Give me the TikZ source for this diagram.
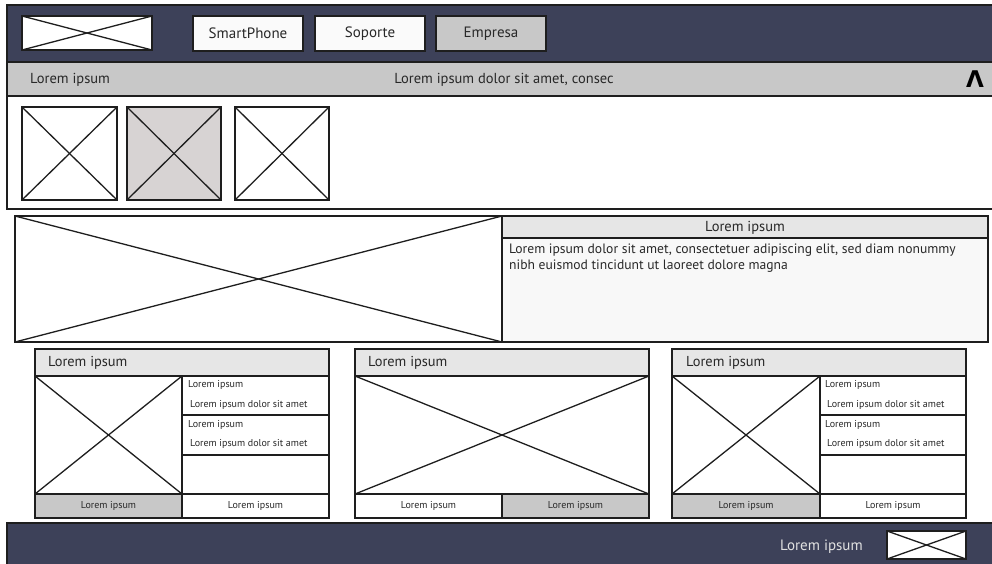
\documentclass[tikz,border=0pt]{standalone}
\usepackage{fontspec}
\setmainfont{PT Sans}
\newfontfamily\symfont{DejaVu Sans}
\definecolor{navy}{RGB}{61,65,89}
\definecolor{ink}{RGB}{30,30,30}
\definecolor{txt}{RGB}{40,40,40}
\definecolor{barg}{RGB}{200,200,200}
\definecolor{headg}{RGB}{230,230,230}
\definecolor{paneg}{RGB}{248,248,248}
\definecolor{btng}{RGB}{250,250,250}
\definecolor{thumbg}{RGB}{215,211,211}
\definecolor{foottxt}{RGB}{225,225,225}
\begin{document}
\begin{tikzpicture}[x=1pt,y=-1pt,
  box/.style={draw=ink, line width=1.3pt, inner sep=0pt, outer sep=0pt, anchor=north west, fill=white, text=txt},
  band/.style={box, fill=navy},
  btn/.style={box, fill=btng, minimum width=110pt, minimum height=35pt, font=\fontsize{15}{17}\selectfont},
  lbl/.style={inner sep=0pt, anchor=west, text=txt, yshift=-1.2pt},
  big/.style={lbl, font=\fontsize{14.5}{17}\selectfont},
  hdr/.style={lbl, font=\fontsize{14.4}{16}\selectfont},
  small/.style={lbl, font=\fontsize{10}{12}\selectfont},
  footbtn/.style={box, minimum width=147pt, minimum height=24pt, font=\fontsize{10}{12}\selectfont},
  cross/.style={draw=ink, line width=1.3pt}]
\useasboundingbox (0,0) rectangle (992,563);

% header band with logo and menu buttons
\node[band, minimum width=990pt, minimum height=57pt] (top) at (7,5) {};
\node[box, minimum width=130pt, minimum height=34pt] (logo) at (22,16) {};
\node[btn] (smart) at (193,16) {SmartPhone};
\node[btn] (sop) at (315,16) {Soporte};
\node[btn, fill=barg] (emp) at (436,16) {Empresa};

% grey sub-bar
\node[box, fill=barg, minimum width=990pt, minimum height=34pt] (sub) at (7,62) {};
\node[big] (subl) at (30,79) {Lorem ipsum};
\node[big, anchor=center] (subc) at (504,79) {Lorem ipsum dolor sit amet, consec};
\node[inner sep=0pt, text=black, font=\symfont\bfseries\fontsize{23}{25}\selectfont] (up) at (975,79) {Λ};

% thumbnail strip
\node[box, minimum width=990pt, minimum height=113pt] (strip) at (7,96) {};
\node[box, minimum width=95pt, minimum height=93pt] (t1) at (22,107) {};
\node[box, fill=thumbg, minimum width=94pt, minimum height=93pt] (t2) at (127,107) {};
\node[box, minimum width=94pt, minimum height=93pt] (t3) at (235,107) {};

% hero image and description
\node[box, minimum width=487pt, minimum height=126pt] (hero) at (15,216) {};
\node[box, fill=paneg, minimum width=486pt, minimum height=126pt] (desc) at (502,216) {};
\node[box, fill=headg, minimum width=486pt, minimum height=22pt] (deschd) at (502,216) {};
\node[big, anchor=center] (desct) at (deschd.center) {Lorem ipsum};
\node[lbl, font=\fontsize{13.6}{16.5}\selectfont, anchor=north west, align=left] (descb) at (509,242)
  {Lorem ipsum dolor sit amet, consectetuer adipiscing elit, sed diam nonummy\\nibh euismod tincidunt ut laoreet dolore magna};

% card 1
\node[box, fill=headg, minimum width=294pt, minimum height=27pt] (c1h) at (35,349) {};
\node[hdr] (c1ht) at (48,362) {Lorem ipsum};
\node[box, minimum width=147pt, minimum height=118pt] (c1i) at (35,376) {};
\node[box, minimum width=147pt, minimum height=39pt] (c1r1) at (182,376) {};
\node[box, minimum width=147pt, minimum height=40pt] (c1r2) at (182,415) {};
\node[box, minimum width=147pt, minimum height=39pt] (c1r3) at (182,455) {};
\node[small] (c1a) at (188,384) {Lorem ipsum};
\node[small] (c1b) at (190,404) {Lorem ipsum dolor sit amet};
\node[small] (c1c) at (188,424) {Lorem ipsum};
\node[small] (c1d) at (190,443) {Lorem ipsum dolor sit amet};
\node[footbtn, fill=barg] (c1f1) at (35,494) {Lorem ipsum};
\node[footbtn] (c1f2) at (182,494) {Lorem ipsum};

% card 2
\node[box, fill=headg, minimum width=294pt, minimum height=27pt] (c2h) at (355,349) {};
\node[hdr] (c2ht) at (368,362) {Lorem ipsum};
\node[box, minimum width=294pt, minimum height=118pt] (c2i) at (355,376) {};
\node[footbtn] (c2f1) at (355,494) {Lorem ipsum};
\node[footbtn, fill=barg] (c2f2) at (502,494) {Lorem ipsum};

% card 3
\node[box, fill=headg, minimum width=294pt, minimum height=27pt] (c3h) at (672,349) {};
\node[hdr] (c3ht) at (686,362) {Lorem ipsum};
\node[box, minimum width=148pt, minimum height=118pt] (c3i) at (672,376) {};
\node[box, minimum width=146pt, minimum height=39pt] (c3r1) at (820,376) {};
\node[box, minimum width=146pt, minimum height=40pt] (c3r2) at (820,415) {};
\node[box, minimum width=146pt, minimum height=39pt] (c3r3) at (820,455) {};
\node[small] (c3a) at (825,384) {Lorem ipsum};
\node[small] (c3b) at (827,404) {Lorem ipsum dolor sit amet};
\node[small] (c3c) at (825,424) {Lorem ipsum};
\node[small] (c3d) at (827,443) {Lorem ipsum dolor sit amet};
\node[footbtn, fill=barg, minimum width=148pt] (c3f1) at (672,494) {Lorem ipsum};
\node[footbtn, minimum width=146pt] (c3f2) at (820,494) {Lorem ipsum};

% footer band
\node[band, minimum width=990pt, minimum height=45pt] (foot) at (7,523) {};
\node[lbl, text=foottxt, font=\fontsize{15}{17}\selectfont] (footl) at (780,545) {Lorem ipsum};
\node[box, minimum width=79pt, minimum height=28pt] (flogo) at (887,531) {};

% image placeholder crosses
\foreach \n in {logo,t1,t2,t3,hero,c1i,c2i,c3i,flogo}{
  \draw[cross] (\n.north west) -- (\n.south east);
  \draw[cross] (\n.south west) -- (\n.north east);
}
\end{tikzpicture}
\end{document}
